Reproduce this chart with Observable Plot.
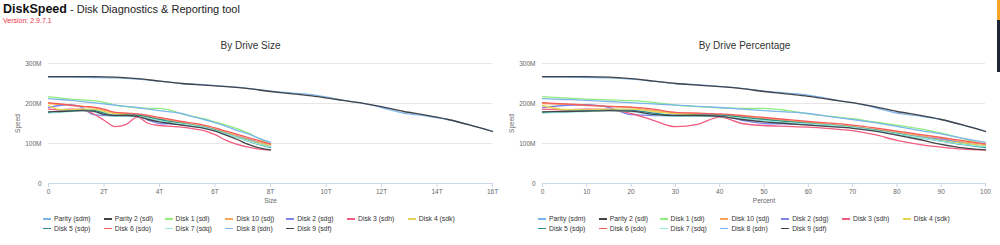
<!DOCTYPE html>
<html>
<head>
<meta charset="utf-8">
<script src="https://cdn.jsdelivr.net/npm/d3@7"></script>
<script src="https://cdn.jsdelivr.net/npm/@observablehq/plot@0.6"></script>
<style>
  html, body { margin: 0; padding: 0; background: #fff; width: 1000px; height: 245px; overflow: hidden; }
  body { font-family: "Liberation Sans", Arial, sans-serif; position: relative; }
  #hdr { position: absolute; left: 3px; top: 2px; font-size: 11px; color: #222; white-space: nowrap; }
  #hdr b { color: #111; font-size: 12.5px; }
  #ver { position: absolute; left: 3px; top: 17px; font-size: 7px; color: #e8303f; }
  .ctitle { position: absolute; top: 40px; width: 495px; text-align: center; font-size: 10px; color: #333; }
  .chart { position: absolute; top: 55px; }
  .legend { position: absolute; top: 214px; width: 440px; font-size: 6.8px; color: #333; }
  .legend .item { display: inline-block; width: 60.8px; height: 9.7px; line-height: 9.7px; white-space: nowrap; vertical-align: top; }
  .legend .sym { display: inline-block; width: 8px; height: 1.6px; vertical-align: middle; margin-right: 3px; position: relative; top: -0.5px; }
  #sb1 { position: absolute; left: 997px; top: 0; width: 3px; height: 20px; background: #f5a623; }
  #sb2 { position: absolute; left: 997px; top: 20px; width: 3px; height: 52px; background: #1e2633; }
</style>
</head>
<body>
<div id="hdr"><b>DiskSpeed</b> - Disk Diagnostics &amp; Reporting tool</div>
<div id="ver">Version: 2.9.7.1</div>
<div class="ctitle" style="left:3px">By Drive Size</div>
<div class="ctitle" style="left:497px">By Drive Percentage</div>
<div class="chart" id="c1" style="left:0px"></div>
<div class="chart" id="c2" style="left:495px"></div>
<div class="legend" id="l1" style="left:43px"></div>
<div class="legend" id="l2" style="left:538px"></div>
<div id="sb1"></div><div id="sb2"></div>
<script>
// ---- data ----
const percents = [0,5,10,15,20,25,30,35,40,45,50,55,60,65,70,75,80,85,90,95,100];
const names = ["Parity (sdm)","Parity 2 (sdl)","Disk 1 (sdi)","Disk 10 (sdj)","Disk 2 (sdg)","Disk 3 (sdh)","Disk 4 (sdk)","Disk 5 (sdp)","Disk 6 (sdo)","Disk 7 (sdq)","Disk 8 (sdn)","Disk 9 (sdf)"];
const colors = ["#7cb5ec","#434348","#90ed7d","#f7a35c","#8085e9","#f15c80","#e4d354","#2b908f","#f45b5b","#91e8e1","#7cb5ec","#434348"];
const sizesTB = [16,16,8,8,8,8,8,8,8,8,8,8];
// speeds in MB/s at each percent
const parity   = [266,266,265,264,261,256,250,247,243,238,231,226,221,211,202,190,176,169,160,146,131];
const parity2  = [267,267,267,266,262,256,250,246,242,237,230,224,218,210,202,192,180,171,160,146,130];
const disk1    = [217,214,211,209,207,203,196,192,189,188,188,183,174,168,162,154,146,137,126,112,97];
const disk10   = [200,198,195,193,190,183,177,175,172,168,162,157,153,148,143,136,128,120,112,104,97];
const disk2    = [190,195,197,190,172,170,170,172,170,158,150,149,147,144,140,133,124,117,110,101,93];
const disk3    = [186,184,186,185,175,158,142,148,166,150,145,143,141,137,132,122,108,98,91,86,84];
const disk4    = [195,185,184,186,186,180,175,172,169,165,160,155,150,146,141,133,125,116,108,100,94];
const disk5    = [178,180,182,183,183,176,170,171,171,166,160,155,150,146,141,134,125,115,106,97,90];
const disk6    = [202,199,196,193,191,186,178,176,174,170,165,160,155,151,146,139,131,123,115,107,99];
const disk7    = [176,178,180,182,180,172,168,168,167,163,157,152,149,145,140,133,124,115,106,98,92];
const disk8    = [212,210,208,205,202,199,196,193,190,186,182,179,175,167,160,152,143,133,124,113,103];
const disk9    = [179,180,181,182,181,173,170,170,168,160,154,150,146,142,138,131,121,110,98,89,84];
const seriesValues = [parity,parity2,disk1,disk10,disk2,disk3,disk4,disk5,disk6,disk7,disk8,disk9];
const yTicks = [0,100,200,300];

// ---- build rows ----
const rows = [];
names.forEach((n, i) => {
  percents.forEach((p, j) => {
    rows.push({name: n, pct: p, size: p / 100 * sizesTB[i], speed: seriesValues[i][j]});
  });
});

const fmtY = d => d === 0 ? "0" : d + "M";
const common = {
  height: 155, width: 495, marginTop: 8, marginBottom: 27,
  y: {domain: [0, 300]},
  color: {domain: names, range: colors},
  style: {fontFamily: "'Liberation Sans', Arial, sans-serif", fontSize: "6.5px", color: "#666", background: "transparent", overflow: "visible"}
};

function makeChart(xField, xDomain, xTicks, xFmt, xLabel, mL, mR) {
  return Plot.plot({
    ...common,
    marginLeft: mL, marginRight: mR,
    x: {domain: xDomain},
    marks: [
      Plot.gridY(yTicks.filter(d => d > 0), {stroke: "#e6e6e6", strokeOpacity: 1}),
      Plot.axisY({ticks: yTicks, tickSize: 0, tickPadding: 7, tickFormat: fmtY, fill: "#666",
                  label: "Speed", labelAnchor: "center", labelArrow: "none", labelOffset: 33}),
      Plot.ruleY([0], {stroke: "#ccd6eb"}),
      Plot.axisX({ticks: xTicks, tickSize: 4, tickPadding: 2, stroke: "#ccd6eb", tickFormat: xFmt, fill: "#666",
                  label: xLabel, labelAnchor: "center", labelArrow: "none", labelOffset: 19}),
      Plot.line(rows, {x: xField, y: "speed", z: "name", stroke: "name", strokeWidth: 1.3, curve: "monotone-x"})
    ]
  });
}

document.getElementById("c1").append(
  makeChart("size", [0, 16], [0,2,4,6,8,10,12,14,16], d => d === 0 ? "0" : d + "T", "Size", 48, 3)
);
document.getElementById("c2").append(
  makeChart("pct", [0, 100], [0,10,20,30,40,50,60,70,80,90,100], d => String(d), "Percent", 47, 5)
);

function legend(el) {
  names.forEach((n, i) => {
    const it = document.createElement("div");
    it.className = "item";
    const s = document.createElement("span");
    s.className = "sym";
    s.style.background = colors[i];
    it.append(s, document.createTextNode(n));
    el.append(it);
    if (i === 6) el.append(document.createElement("br"));
  });
}
legend(document.getElementById("l1"));
legend(document.getElementById("l2"));
</script>
</body>
</html>
